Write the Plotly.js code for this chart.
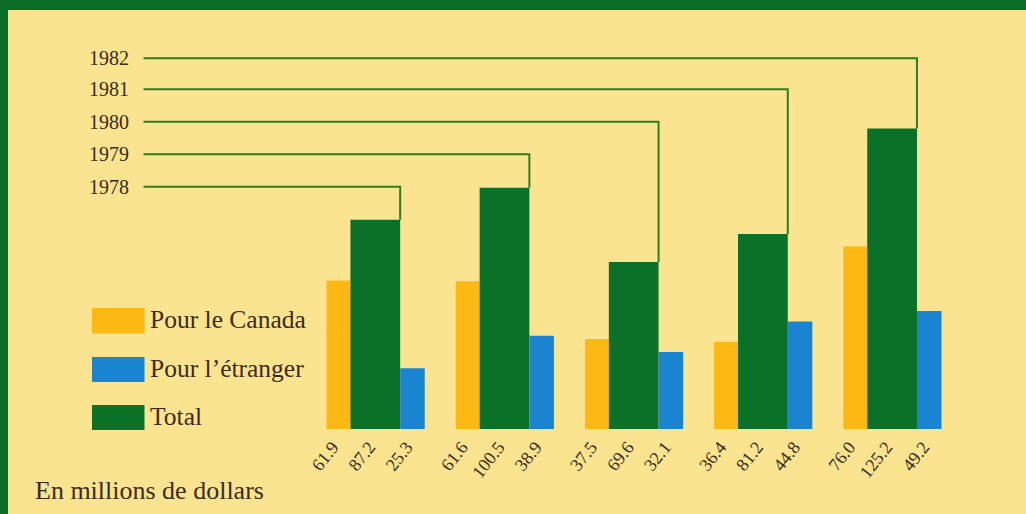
<!DOCTYPE html>
<html>
<head>
<meta charset="utf-8">
<script src="https://cdn.plot.ly/plotly-3.0.1.min.js"></script>
<style>
  html, body { margin: 0; padding: 0; background: #fbe48f; }
  #chart { width: 1026px; height: 514px; }
</style>
</head>
<body>
<div id="chart"></div>
<script>
// ---- Data ----
const years = ['1978', '1979', '1980', '1981', '1982'];
const pourCanada = [61.9, 61.6, 37.5, 36.4, 76.0];
const pourEtranger = [25.3, 38.9, 32.1, 44.8, 49.2];
const total = [87.2, 100.5, 69.6, 81.2, 125.2];
const seriesNames = ['Pour le Canada', 'Pour l’étranger', 'Total'];
const unitNote = 'En millions de dollars';

// ---- Layout constants (pixels) ----
const W = 1026, H = 514;
const baseY = 429;            // pixel row of bar baseline
const pxPerUnit = 2.40;       // vertical scale
const group0 = 375.3;         // pixel centre of first group's Total bar
const groupStep = 129.2;      // pixels between groups
const wCan = 0.185, wTot = 0.385, wEtr = 0.19;
const offCan = -(wTot / 2 + wCan / 2);
const offEtr = (wTot / 2 + wEtr / 2);
const labelShiftPx = -6;      // value labels sit slightly left of bar centre

const yearLinePx = [186.7, 154.3, 121.7, 89.3, 58.3];
const lineStartPx = 143.5;
const yearLabelRightPx = 131;

const COL_CAN = '#fdb813';
const COL_ETR = '#1a84d0';
const COL_TOT = '#0b7129';
const COL_LINE = '#2f7d22';
const COL_TEXT = '#3a2a18';
const COL_BG = '#fbe48f';
const COL_BORDER = '#0a6c25';
const FONT = 'Liberation Serif, Times New Roman, serif';

const pxToX = px => (px - group0) / groupStep;
const pxToY = py => (baseY - py) / pxPerUnit;
const pxToPaperX = px => px / W;
const pxToPaperY = py => (baseY - py) / baseY;

const idx = years.map((_, i) => i);

const traces = [
  { name: seriesNames[0], values: pourCanada, off: offCan, w: wCan, color: COL_CAN },
  { name: seriesNames[2], values: total, off: 0, w: wTot, color: COL_TOT },
  { name: seriesNames[1], values: pourEtranger, off: offEtr, w: wEtr, color: COL_ETR }
].map(s => ({
  type: 'bar',
  name: s.name,
  x: idx.map(i => i + s.off),
  y: s.values,
  width: idx.map(() => s.w),
  marker: { color: s.color, line: { width: 0 } },
  hoverinfo: 'skip',
  showlegend: false
}));

// tick labels = values under each bar
const dx = labelShiftPx / groupStep;
const tickvals = [], ticktext = [];
idx.forEach(i => {
  tickvals.push(i + offCan + dx, i + dx, i + offEtr + dx);
  ticktext.push(pourCanada[i].toFixed(1), total[i].toFixed(1), pourEtranger[i].toFixed(1));
});

const shapes = [];
const annotations = [];

// year connector lines
idx.forEach(i => {
  const yl = pxToY(yearLinePx[i]);
  const xs = pxToX(lineStartPx);
  const xe = i + wTot / 2;
  shapes.push({
    type: 'path', xref: 'x', yref: 'y',
    path: `M ${xs},${yl} L ${xe},${yl} L ${xe},${total[i]}`,
    line: { color: COL_LINE, width: 2 }
  });
  annotations.push({
    xref: 'paper', yref: 'y', x: pxToPaperX(yearLabelRightPx), y: yl,
    xanchor: 'right', yanchor: 'middle', showarrow: false,
    text: years[i], font: { family: FONT, size: 20, color: COL_TEXT }
  });
});

// legend
const legendRows = [
  { name: seriesNames[0], color: COL_CAN, top: 308, bot: 333.5 },
  { name: seriesNames[1], color: COL_ETR, top: 357, bot: 382 },
  { name: seriesNames[2], color: COL_TOT, top: 405, bot: 430 }
];
legendRows.forEach(r => {
  shapes.push({
    type: 'rect', xref: 'paper', yref: 'paper',
    x0: pxToPaperX(92), x1: pxToPaperX(144.5),
    y0: pxToPaperY(r.bot), y1: pxToPaperY(r.top),
    fillcolor: r.color, line: { width: 0 }
  });
  annotations.push({
    xref: 'paper', yref: 'paper', x: pxToPaperX(148), y: pxToPaperY((r.top + r.bot) / 2 - 1),
    xanchor: 'left', yanchor: 'middle', showarrow: false,
    text: r.name, font: { family: FONT, size: 25.5, color: COL_TEXT }
  });
});

annotations.push({
  xref: 'paper', yref: 'paper', x: pxToPaperX(33), y: pxToPaperY(490),
  xanchor: 'left', yanchor: 'middle', showarrow: false,
  text: unitNote, font: { family: FONT, size: 26, color: COL_TEXT }
});

// frame border (top and left)
shapes.push({
  type: 'rect', xref: 'paper', yref: 'paper', layer: 'above',
  x0: 0, x1: 1, y0: pxToPaperY(10), y1: pxToPaperY(0),
  fillcolor: COL_BORDER, line: { width: 0 }
});
shapes.push({
  type: 'rect', xref: 'paper', yref: 'paper', layer: 'above',
  x0: 0, x1: pxToPaperX(8), y0: pxToPaperY(H), y1: pxToPaperY(0),
  fillcolor: COL_BORDER, line: { width: 0 }
});

const layout = {
  width: W, height: H,
  margin: { l: 0, r: 0, t: 0, b: H - baseY, pad: 0 },
  paper_bgcolor: COL_BG,
  plot_bgcolor: 'rgba(0,0,0,0)',
  barmode: 'overlay',
  showlegend: false,
  xaxis: {
    range: [pxToX(0), pxToX(W)],
    tickmode: 'array', tickvals: tickvals, ticktext: ticktext,
    tickangle: -52,
    ticks: '', showgrid: false, zeroline: false, showline: false,
    ticklabelstandoff: 3,
    tickfont: { family: FONT, size: 18, color: COL_TEXT },
    fixedrange: true
  },
  yaxis: {
    range: [0, baseY / pxPerUnit],
    visible: false, showgrid: false, zeroline: false, fixedrange: true
  },
  shapes: shapes,
  annotations: annotations
};

Plotly.newPlot('chart', traces, layout, { displayModeBar: false, staticPlot: true });
</script>
</body>
</html>
